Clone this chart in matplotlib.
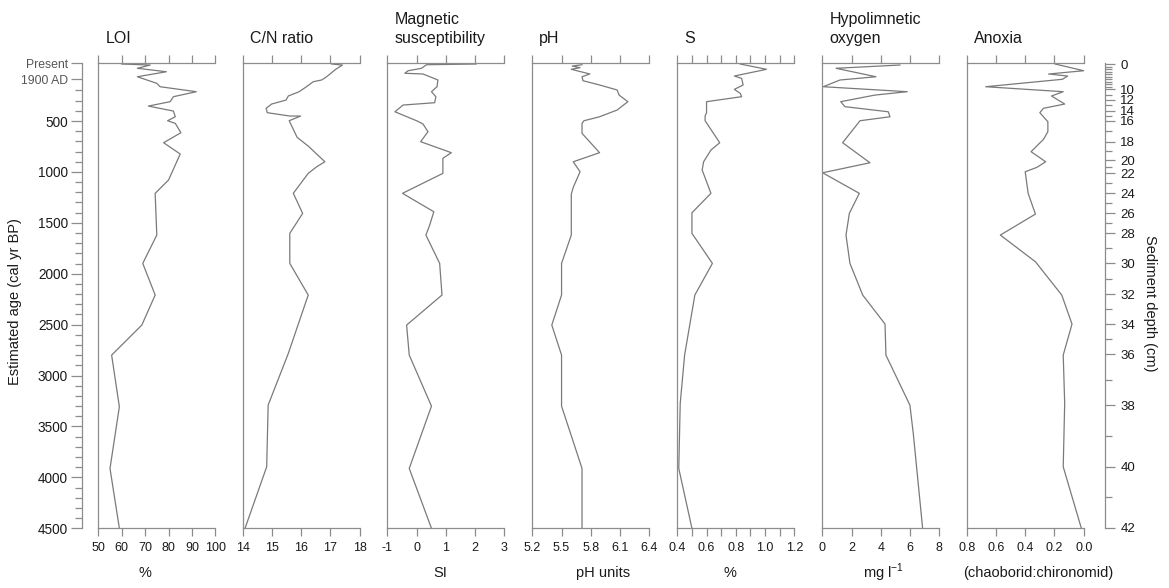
import numpy as np
import matplotlib.pyplot as plt

plt.rcParams['font.family'] = ['Liberation Sans', 'DejaVu Sans']
plt.rcParams['mathtext.fontset'] = 'custom'
plt.rcParams['mathtext.rm'] = 'Liberation Sans'
plt.rcParams['axes.unicode_minus'] = False

# values, each series with its own ages (cal yr BP)
loi_age = [-60, -50, -18, 16, 65, 130, 163, 212, 261, 310, 353, 402, 458, 497, 523, 615,
           713, 824, 1080, 1210, 1620, 1898, 2209, 2504, 2799, 3306, 3912, 4500]
loi = [60, 72.2, 66.7, 79.1, 66.7, 75, 76.4, 91.9, 82.1, 80.7, 71.4, 82.1, 82.9, 79.6, 82.9, 85.3,
       77.9, 85, 80, 74.3, 75, 69, 74.3, 68.6, 55.7, 59, 55, 59]

cn_age = [-60, -50, -8, 65, 97, 114, 163, 212, 254, 294, 333, 375, 418, 451, 451, 497, 660,
          746, 900, 949, 1014, 1210, 1407, 1603, 1898, 2209, 2782, 3290, 3896, 4500]
cn = [17.04, 17.41, 17.18, 16.87, 16.70, 16.41, 16.18, 15.93, 15.56, 15.48, 14.99, 14.80, 14.84,
      15.61, 15.98, 15.59, 15.86, 16.24, 16.81, 16.53, 16.24, 15.73, 16.05, 15.61, 15.61, 16.24,
      15.56, 14.87, 14.82, 14.08]

ms_age = [-60, -53, -18, 6, 31, 38, 97, 163, 212, 261, 320, 343, 409, 497, 529, 605, 703, 811,
          866, 1014, 1210, 1391, 1522, 1620, 1898, 2209, 2504, 2799, 3300, 3912, 4500]
ms = [2.04, 0.34, 0.17, -0.29, -0.40, 0.22, 0.73, 0.70, 0.51, 0.66, 0.62, -0.46, -0.74, 0.0, 0.22,
      0.39, 0.14, 1.19, 0.90, 0.90, -0.48, 0.59, 0.45, 0.32, 0.79, 0.87, -0.34, -0.25, 0.51, -0.25,
      0.51]

ph_age = [-53, -40, -24, -8, 38, 65, 104, 146, 195, 245, 310, 392, 458, 497, 523, 621, 811, 900,
          998, 1151, 1217, 1620, 1898, 2209, 2504, 2799, 3300, 3912, 4500]
ph = [5.71, 5.61, 5.69, 5.60, 5.79, 5.71, 5.72, 5.89, 6.07, 6.09, 6.18, 6.07, 5.89, 5.73, 5.71,
      5.71, 5.89, 5.62, 5.69, 5.62, 5.60, 5.60, 5.50, 5.50, 5.40, 5.50, 5.50, 5.71, 5.71]

s_age = [-60, -8, 58, 81, 146, 189, 228, 261, 310, 418, 451, 497, 713, 785, 900, 981, 1210, 1401,
         1603, 1898, 2209, 2799, 3273, 3912, 4500]
s = [0.83, 1.01, 0.79, 0.84, 0.85, 0.79, 0.83, 0.84, 0.60, 0.60, 0.59, 0.59, 0.69, 0.63, 0.58,
     0.57, 0.63, 0.50, 0.50, 0.64, 0.52, 0.45, 0.42, 0.41, 0.50]

ox_age = [-50, -18, 65, 97, 163, 212, 245, 310, 359, 409, 458, 497, 713, 910, 1008, 1210, 1407,
          1620, 1898, 2062, 2209, 2494, 2799, 3290, 3568, 4500]
ox = [5.31, 0.94, 3.67, 1.21, 0.07, 5.81, 3.60, 1.26, 1.55, 4.51, 4.63, 2.58, 1.39, 3.26, 0.02,
      2.53, 1.85, 1.62, 1.89, 2.35, 2.76, 4.29, 4.35, 5.99, 6.22, 6.86]

an_age = [-60, 6, 38, 58, 90, 163, 212, 254, 333, 375, 418, 507, 605, 680, 801, 900, 955, 998,
          1210, 1414, 1620, 1882, 2209, 2494, 2799, 3273, 3896, 4500]
anoxia = [0.195, 0.0, 0.24, 0.11, 0.145, 0.67, 0.14, 0.22, 0.13, 0.275, 0.30, 0.245, 0.245, 0.275,
          0.36, 0.26, 0.32, 0.40, 0.38, 0.33, 0.57, 0.33, 0.15, 0.08, 0.14, 0.13, 0.14, 0.016]

# depth-age model for the right axis
depth_cm = [0, 10, 12, 14, 16, 18, 20, 22, 24, 26, 28, 30, 32, 34, 36, 38, 40, 42]
depth_age = [-60, 190, 290, 400, 497, 703, 883, 1013, 1210, 1407, 1603, 1898, 2199, 2494, 2789,
             3290, 3895, 4495]

panels = [
    (["LOI"], loi_age, loi, (50, 100), np.arange(50, 101, 10), None, "%", 145),
    (["C/N ratio"], cn_age, cn, (14, 18), np.arange(14, 19, 1), None, "", 0),
    (["Magnetic", "susceptibility"], ms_age, ms, (-1, 3), np.arange(-1, 4, 1), None, "SI", 440),
    (["pH"], ph_age, ph, (5.2, 6.4), [5.2, 5.5, 5.8, 6.1, 6.4], None, "pH units", 603),
    (["S"], s_age, s, (0.4, 1.2), np.arange(0.4, 1.21, 0.1),
     ["0.4", "", "0.6", "", "0.8", "", "1.0", "", "1.2"], "%", 730),
    (["Hypolimnetic", "oxygen"], ox_age, ox, (0, 8), np.arange(0, 9, 2), None, "mg l$^{-1}$", 883),
    (["Anoxia"], an_age, anoxia, (0.8, 0.0), [0.8, 0.6, 0.4, 0.2, 0.0],
     ["0.8", "0.6", "0.4", "0.2", "0.0"], "(chaoborid:chironomid)", 1038),
]

W, H = 1169, 588
top_px, bot_px = 63.3, 528.3
y0 = 1 - bot_px / H
hgt = (bot_px - top_px) / H
ylim = (4500, -67)
line_c = '#7a7a7a'
spine_c = '#8c8c8c'
text_c = '#1a1a1a'

fig = plt.figure(figsize=(W / 100, H / 100), dpi=100)

lefts = [98.3, 242.7, 387.3, 532.3, 677.3, 822.3, 966.7]
for left, (title, ages, vals, xl, ticks, labels, unit, ux) in zip(lefts, panels):
    ax = fig.add_axes([left / W, y0, 117 / W, hgt])
    ax.plot(vals, ages, color=line_c, lw=0.9, clip_on=False)
    ax.set_ylim(*ylim)
    ax.set_xlim(*xl)
    ax.set_xticks(ticks)
    if labels is not None:
        ax.set_xticklabels(labels)
    ax.set_yticks([])
    ax.spines['right'].set_visible(False)
    for sp in ['left', 'top', 'bottom']:
        ax.spines[sp].set_color(spine_c)
        ax.spines[sp].set_linewidth(0.9)
    ax.tick_params(axis='x', top=True, bottom=True, direction='out', length=6, width=0.9,
                   color=spine_c, labelsize=9, labelcolor=text_c, pad=4)
    ax.patch.set_alpha(0)
    # panel title, one baseline per line
    for i, line in enumerate(title):
        yb = 43 - 19 * (len(title) - 1 - i)
        fig.text((left + 7) / W, 1 - yb / H, line, fontsize=11.5, color=text_c,
                 ha='left', va='baseline')
    if unit:
        fig.text(ux / W, 1 - 573 / H, unit, fontsize=10.5, color=text_c, ha='center', va='center')

# left age axis
axa = fig.add_axes([82 / W, y0, 10 / W, hgt])
axa.set_ylim(*ylim)
for sp in ['right', 'top', 'bottom']:
    axa.spines[sp].set_visible(False)
axa.spines['left'].set_color(spine_c)
axa.spines['left'].set_linewidth(0.9)
axa.set_xticks([])
major = [-67, 90, 500, 1000, 1500, 2000, 2500, 3000, 3500, 4000, 4500]
major_lab = ["Present", "1900 AD", "500", "1000", "1500", "2000", "2500", "3000", "3500",
             "4000", "4500"]
axa.set_yticks(major)
axa.set_yticklabels(major_lab)
axa.set_yticks([a for a in range(200, 4500, 100) if a % 500 != 0], minor=True)
axa.tick_params(axis='y', which='major', direction='out', length=8, width=0.9, color=spine_c,
                labelsize=9.8, labelcolor=text_c, pad=2)
axa.tick_params(axis='y', which='minor', direction='out', length=5, width=0.9, color=spine_c)
for t in axa.get_yticklabels()[:2]:
    t.set_fontsize(8.8)
    t.set_color('#555555')
axa.patch.set_alpha(0)
fig.text(15 / W, 1 - 302 / H, "Estimated age (cal yr BP)", rotation=90, fontsize=10.5,
         color=text_c, ha='center', va='center')

# right sediment depth axis
axd = fig.add_axes([1095 / W, y0, 10 / W, hgt])
axd.set_ylim(*ylim)
for sp in ['left', 'top', 'bottom']:
    axd.spines[sp].set_visible(False)
axd.spines['right'].set_color(spine_c)
axd.spines['right'].set_linewidth(0.9)
axd.set_xticks([])
axd.yaxis.tick_right()
axd.set_yticks(depth_age)
axd.set_yticklabels([str(d) for d in depth_cm])
minor_depths = list(range(1, 10)) + list(range(11, 42, 2))
axd.set_yticks(np.interp(minor_depths, depth_cm, depth_age), minor=True)
axd.tick_params(axis='y', which='major', direction='out', length=7, width=0.9, color=spine_c,
                labelsize=9.5, labelcolor=text_c, pad=4)
axd.tick_params(axis='y', which='minor', direction='out', length=5, width=0.9, color=spine_c)
axd.patch.set_alpha(0)
fig.text(1150 / W, 1 - 303 / H, "Sediment depth (cm)", rotation=270, fontsize=10.5,
         color=text_c, ha='center', va='center')

fig.savefig("out.png", dpi=100)
